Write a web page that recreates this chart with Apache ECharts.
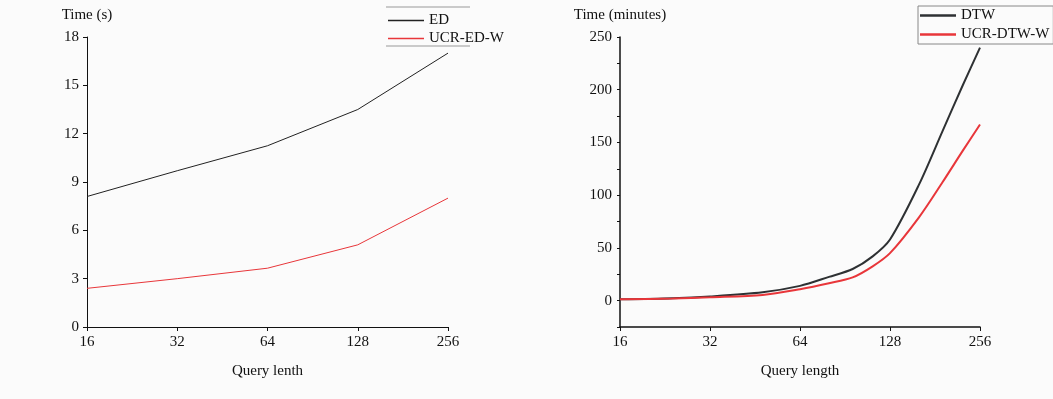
<!DOCTYPE html>
<html>
<head>
<meta charset="utf-8">
<script src="https://cdn.jsdelivr.net/npm/echarts@6/dist/echarts.min.js"></script>
<style>
  html, body { margin: 0; padding: 0; background: #fbfbfb; }
  #main { width: 1053px; height: 399px; }
</style>
</head>
<body>
<div id="main"></div>
<script>
// left chart: ED vs UCR-ED-W (seconds)
var edLengths = [16, 32, 64, 128, 256];
var edTime = [8.1, 9.7, 11.25, 13.5, 17.0];
var ucrEdTime = [2.4, 3.0, 3.65, 5.1, 8.0];

// right chart: DTW vs UCR-DTW-W (minutes)
var dtwLengths = [16, 24, 32, 48, 64, 80, 96, 112, 128, 160, 192, 224, 256];
var dtwTime = [1.3, 2.3, 4, 8, 14, 22.5, 30, 42, 58, 110, 161, 204, 240];
var ucrDtwTime = [1.2, 2, 3.2, 5.4, 10.9, 16.5, 22, 32.5, 45, 79, 112.5, 142, 167];

function pairs(xs, ys) {
  return xs.map(function (x, i) { return [x, ys[i]]; });
}

var font = 'Liberation Serif';
var black = '#222';
var red = '#e8363a';

var myChart = echarts.init(document.getElementById('main'));

var axisCommon = {
  axisLine: { show: true, onZero: false, lineStyle: { color: '#111', width: 1 } },
  axisTick: { show: true, inside: false, length: 4, lineStyle: { color: '#111' } },
  axisLabel: { color: '#111', fontFamily: font, fontSize: 15 },
  splitLine: { show: false },
  nameTextStyle: { color: '#111', fontFamily: font, fontSize: 15 }
};

var option = {
  backgroundColor: '#fbfbfb',
  animation: false,
  grid: [
    { left: 87, top: 37, width: 361, height: 290 },
    { left: 620, top: 37, width: 360, height: 290 }
  ],
  legend: [
    {
      data: ['ED', 'UCR-ED-W'],
      orient: 'vertical',
      left: 383, top: 8,
      itemWidth: 36, itemHeight: 1.5, itemGap: 3,
      icon: 'rect',
      textStyle: { fontFamily: font, fontSize: 15, color: '#111', lineHeight: 15 }
    },
    {
      data: ['DTW', 'UCR-DTW-W'],
      orient: 'vertical',
      left: 918, top: 6,
      padding: [2, 4, 2, 2],
      borderColor: '#888', borderWidth: 1,
      itemWidth: 36, itemHeight: 2.5, itemGap: 4,
      icon: 'rect',
      textStyle: { fontFamily: font, fontSize: 15, color: '#111', lineHeight: 15 }
    }
  ],
  xAxis: [
    Object.assign({}, axisCommon, {
      gridIndex: 0, type: 'log', logBase: 2, min: 16, max: 256,
      name: 'Query lenth', nameLocation: 'middle', nameGap: 37,
      axisLabel: Object.assign({}, axisCommon.axisLabel, { margin: 8 })
    }),
    Object.assign({}, axisCommon, {
      gridIndex: 1, type: 'log', logBase: 2, min: 16, max: 256,
      name: 'Query length', nameLocation: 'middle', nameGap: 37,
      axisLine: { show: true, onZero: false, lineStyle: { color: '#111', width: 1.5 } },
      axisLabel: Object.assign({}, axisCommon.axisLabel, { margin: 8 })
    })
  ],
  yAxis: [
    Object.assign({}, axisCommon, {
      gridIndex: 0, type: 'value', min: 0, max: 18, interval: 3,
      name: 'Time (s)', nameLocation: 'end', nameGap: 14
    }),
    Object.assign({}, axisCommon, {
      gridIndex: 1, type: 'value', min: -25, max: 250, interval: 25,
      name: 'Time (minutes)', nameLocation: 'end', nameGap: 14,
      axisLine: { show: true, onZero: false, lineStyle: { color: '#111', width: 1.5 } },
      axisTick: { show: true, inside: false, length: 3, lineStyle: { color: '#111' } },
      axisLabel: Object.assign({}, axisCommon.axisLabel, {
        formatter: function (v) { return (v % 50 === 0) ? String(v) : ''; }
      })
    })
  ],
  series: [
    {
      name: 'ED', type: 'line', xAxisIndex: 0, yAxisIndex: 0,
      data: pairs(edLengths, edTime), showSymbol: false,
      lineStyle: { color: black, width: 1 }, itemStyle: { color: black }
    },
    {
      name: 'UCR-ED-W', type: 'line', xAxisIndex: 0, yAxisIndex: 0,
      data: pairs(edLengths, ucrEdTime), showSymbol: false,
      lineStyle: { color: red, width: 1 }, itemStyle: { color: red }
    },
    {
      name: 'DTW', type: 'line', xAxisIndex: 1, yAxisIndex: 1,
      data: pairs(dtwLengths, dtwTime), showSymbol: false, smooth: 0.3,
      lineStyle: { color: '#2e3133', width: 2 }, itemStyle: { color: '#2e3133' }
    },
    {
      name: 'UCR-DTW-W', type: 'line', xAxisIndex: 1, yAxisIndex: 1,
      data: pairs(dtwLengths, ucrDtwTime), showSymbol: false, smooth: 0.3,
      lineStyle: { color: red, width: 2 }, itemStyle: { color: red }
    }
  ],
  graphic: [
    { type: 'line', shape: { x1: 386, y1: 7, x2: 470, y2: 7 }, style: { stroke: '#999', lineWidth: 1 } },
    { type: 'line', shape: { x1: 386, y1: 46, x2: 470, y2: 46 }, style: { stroke: '#999', lineWidth: 1 } }
  ]
};

myChart.setOption(option);
</script>
</body>
</html>
